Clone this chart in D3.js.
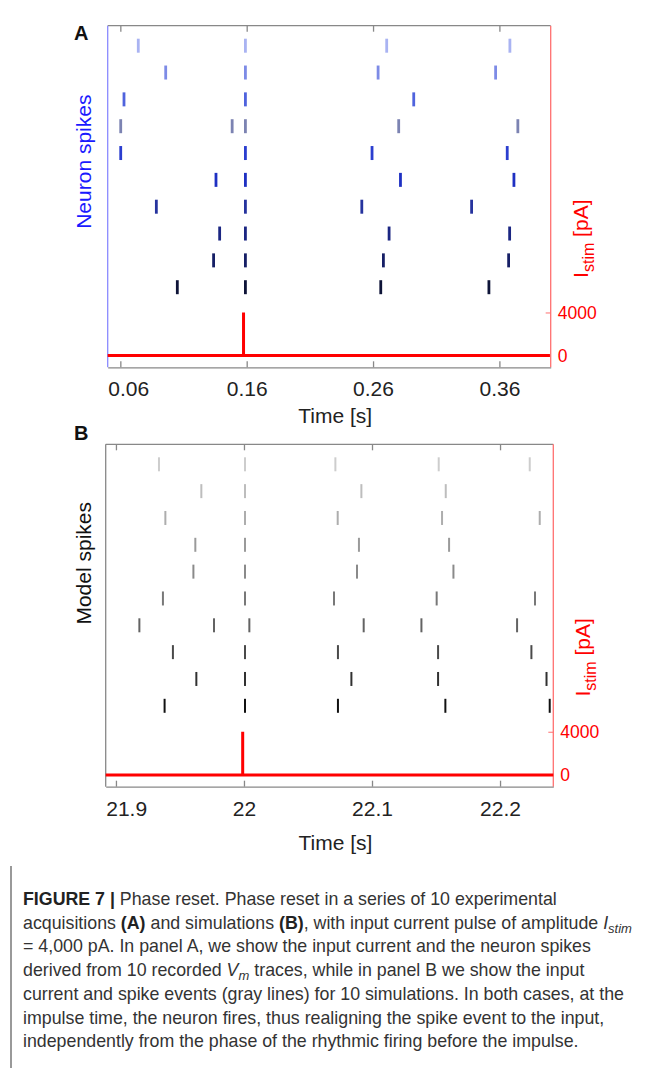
<!DOCTYPE html>
<html lang="en">
<head>
  <meta charset="UTF-8">
  <title>Phase reset</title>
  <script src="https://d3js.org/d3.v7.min.js"></script>
  <style>
    body { margin: 0; background: #fff; }
    svg { display: block; font-family: "Liberation Sans", Arial, sans-serif; }
    .tick text { font-size: 21px; fill: #222; }
    .stim .tick text { font-size: 17.5px; fill: #ff0000; }
    .caption { font-size: 17.8px; fill: #333; }
  </style>
</head>
<body>
  <svg width="655" height="1068"></svg>

  <script>
    // spike times (s), one row per acquisition / simulation, top row first
    const spikesA = [
      [0.0742, 0.159, 0.2708, 0.3683],
      [0.0959, 0.159, 0.264, 0.357],
      [0.0629, 0.159, 0.2922],
      [0.0603, 0.1485, 0.159, 0.2803, 0.3746],
      [0.0603, 0.159, 0.2592, 0.3662],
      [0.1357, 0.159, 0.2817, 0.3715],
      [0.0885, 0.159, 0.2511, 0.338],
      [0.1386, 0.159, 0.2727, 0.3681],
      [0.1338, 0.159, 0.2682, 0.3673],
      [0.1051, 0.159, 0.2661, 0.3517]
    ];
    const spikesB = [
      [21.9336, 22.0008, 22.0714, 22.1521, 22.2232],
      [21.9667, 22.0008, 22.0917, 22.1576],
      [21.9386, 22.0008, 22.0732, 22.1547, 22.231],
      [21.962, 22.0008, 22.0898, 22.1602],
      [21.9605, 22.0008, 22.0883, 22.1636],
      [21.9367, 22.0008, 22.0703, 22.1505, 22.2273],
      [21.9183, 21.9766, 22.0042, 22.0935, 22.1386, 22.2133],
      [21.9445, 22.0008, 22.0734, 22.1516, 22.2245],
      [21.9628, 22.0008, 22.0839, 22.1516, 22.2363],
      [21.938, 22.0008, 22.0734, 22.1573, 22.2388]
    ];

    // input current pulse
    const stimTimeA = [0.05, 0.1575, 0.1575, 0.1575, 0.40];
    const stimTimeB = [21.892, 21.999, 21.999, 21.999, 22.2416];
    const stimAmp = [0, 0, 4000, 0, 0];

    const domainA = [0.05, 0.4006];
    const domainB = [21.892, 22.2416];
    const ticksA = [0.06, 0.16, 0.26, 0.36];
    const ticksB = [21.9, 22, 22.1, 22.2];
    const stimTicks = [0, 4000];

    const colorsA = ["#a9b3f2", "#7d8be6", "#4f63dd", "#7c83b2", "#2b3ecf",
                     "#1e30c2", "#26339e", "#1b2682", "#161f66", "#0e1438"];
    const colorsB = ["#cdcdcd", "#bdbdbd", "#adadad", "#9a9a9a", "#8a8a8a",
                     "#787878", "#636363", "#4a4a4a", "#313131", "#111111"];

    const svg = d3.select("svg");

    function drawPanel(p) {
      const g = svg.append("g");
      const x = d3.scaleLinear().domain(p.domain).range([p.left, p.right]);
      const h = p.bottom - p.top;
      const yStim = d3.scaleLinear().domain([0, 4000]).range([p.top + h * 0.9655, p.top + h * 0.8395]);
      const row = d3.scalePoint().domain(d3.range(10)).range([p.top + 20, p.top + 261.5]);

      // box edges
      g.append("line").attr("x1", p.left).attr("x2", p.right).attr("y1", p.top).attr("y2", p.top)
        .attr("stroke", "#888").attr("stroke-width", 1.3);
      g.append("line").attr("x1", p.left).attr("x2", p.left).attr("y1", p.top).attr("y2", p.bottom)
        .attr("stroke", p.leftColor).attr("stroke-width", 1.3);
      g.append("line").attr("x1", p.right).attr("x2", p.right).attr("y1", p.top).attr("y2", p.bottom)
        .attr("stroke", "#ff7070").attr("stroke-width", 1.3);

      // top ticks
      g.append("g").attr("transform", `translate(0,${p.top})`)
        .call(d3.axisTop(x).tickValues(p.ticks).tickSizeInner(-6).tickSizeOuter(0).tickFormat(""))
        .call(a => a.select(".domain").remove())
        .call(a => a.selectAll("line").attr("stroke", "#888").attr("stroke-width", 1.3));

      // bottom axis
      const xa = g.append("g").attr("transform", `translate(0,${p.bottom})`)
        .call(d3.axisBottom(x).tickValues(p.ticks).tickSizeInner(-6).tickSizeOuter(0)
          .tickPadding(14).tickFormat(d3.format("")));
      xa.select(".domain").attr("stroke", "#888").attr("stroke-width", 1.3);
      xa.selectAll("line").attr("stroke", "#888").attr("stroke-width", 1.3);
      xa.selectAll("text").attr("font-family", null).each(function (d) {
        const b = this.getBBox();
        const left = x(d) + b.x;
        if (left < p.left) d3.select(this).attr("x", p.left - left);
      });

      g.append("text")
        .attr("x", (p.left + p.right) / 2 + 6).attr("y", p.bottom + p.titleOffset)
        .attr("text-anchor", "middle").attr("font-size", 21).attr("fill", "#222")
        .text("Time [s]");

      // right stimulus axis
      const ya = g.append("g").attr("class", "stim").attr("transform", `translate(${p.right},0)`)
        .call(d3.axisRight(yStim).tickValues(stimTicks).tickSizeInner(-5).tickSizeOuter(0).tickPadding(7)
          .tickFormat(d3.format("d")));
      ya.select(".domain").remove();
      ya.selectAll("line").attr("stroke", "#ff7070");

      const lab = g.append("text")
        .attr("transform", `translate(${p.right + 37},${p.top + 213}) rotate(-90)`)
        .attr("text-anchor", "middle").attr("font-size", 21).attr("fill", "#ff0000");
      lab.append("tspan").text("I");
      lab.append("tspan").attr("font-size", 16).attr("dy", 6).text("stim");
      lab.append("tspan").attr("dy", -6).text(" [pA]");

      // left label
      g.append("text")
        .attr("transform", `translate(91,${p.top + p.ylabelMid}) rotate(-90)`)
        .attr("text-anchor", "middle").attr("font-size", 21).attr("fill", p.ylabelColor)
        .text(p.ylabel);

      // panel letter
      g.append("text").attr("x", 74).attr("y", p.letterY)
        .attr("font-size", 20).attr("font-weight", "bold").attr("fill", "#111")
        .text(p.letter);

      // stimulus trace
      const stim = p.stimTime.map((t, i) => [t, stimAmp[i]]);
      g.append("path").datum(stim)
        .attr("fill", "none").attr("stroke", "#ff0000").attr("stroke-width", 3)
        .attr("stroke-linejoin", "bevel")
        .attr("d", d3.line().x(d => x(d[0])).y(d => yStim(d[1])));

      // spike raster
      p.spikes.forEach((times, i) => {
        g.append("g").selectAll("line").data(times).join("line")
          .attr("x1", d => x(d)).attr("x2", d => x(d))
          .attr("y1", row(i) - 7).attr("y2", row(i) + 7)
          .attr("stroke", p.colors[i]).attr("stroke-width", p.spikeWidth);
      });
    }

    drawPanel({
      letter: "A", letterY: 40, left: 107.7, right: 550.7, top: 25.7, bottom: 367.3,
      domain: domainA, ticks: ticksA, spikes: spikesA, colors: colorsA, stimTime: stimTimeA,
      leftColor: "#8a8aff", ylabel: "Neuron spikes", ylabelColor: "#1a1aff", ylabelMid: 136,
      spikeWidth: 2.8, titleOffset: 56
    });
    drawPanel({
      letter: "B", letterY: 440, left: 105.7, right: 553.3, top: 444.3, bottom: 786.7,
      domain: domainB, ticks: ticksB, spikes: spikesB, colors: colorsB, stimTime: stimTimeB,
      leftColor: "#888", ylabel: "Model spikes", ylabelColor: "#111", ylabelMid: 119,
      spikeWidth: 2, titleOffset: 63
    });

    // caption
    svg.append("line").attr("x1", 11).attr("x2", 11).attr("y1", 866).attr("y2", 1068)
      .attr("stroke", "#999").attr("stroke-width", 2);

    const captionLines = [
      [["FIGURE 7 | ", "b"], ["Phase reset. Phase reset in a series of 10 experimental"]],
      [["acquisitions "], ["(A)", "b"], [" and simulations "], ["(B)", "b"], [", with input current pulse of amplitude "], ["I", "i"], ["stim", "sub"]],
      [["= 4,000 pA. In panel A, we show the input current and the neuron spikes"]],
      [["derived from 10 recorded "], ["V", "i"], ["m", "sub"], [" traces, while in panel B we show the input", "up"]],
      [["current and spike events (gray lines) for 10 simulations. In both cases, at the"]],
      [["impulse time, the neuron fires, thus realigning the spike event to the input,"]],
      [["independently from the phase of the rhythmic firing before the impulse."]]
    ];
    captionLines.forEach((segs, i) => {
      const t = svg.append("text").attr("class", "caption").attr("x", 23).attr("y", 905 + i * 23.7);
      segs.forEach(([s, st]) => {
        const ts = t.append("tspan").text(s);
        if (st === "b") ts.attr("font-weight", "bold").attr("fill", "#222");
        if (st === "i") ts.attr("font-style", "italic");
        if (st === "sub") ts.attr("font-style", "italic").attr("font-size", 13).attr("dy", 4);
        if (st === "up") ts.attr("dy", -4);
      });
    });
  </script>
</body>
</html>
